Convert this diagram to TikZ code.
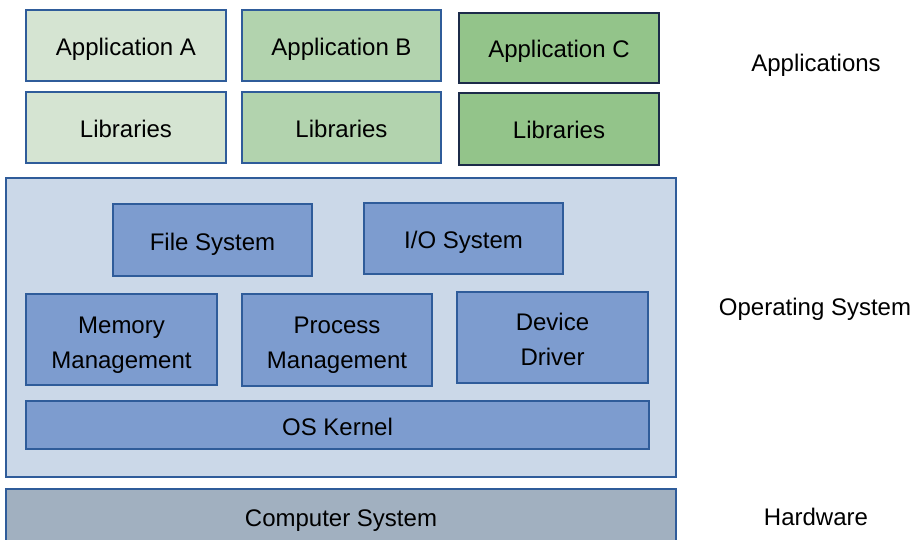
\documentclass[tikz,border=0pt]{standalone}
\usepackage{fontspec}
\setmainfont{Liberation Sans}
\definecolor{edgeblue}{HTML}{2F5C9A}
\definecolor{edgenavy}{HTML}{1C2B49}
\definecolor{greenA}{HTML}{D5E4D2}
\definecolor{greenB}{HTML}{B2D3AE}
\definecolor{greenC}{HTML}{93C48A}
\definecolor{osfill}{HTML}{CBD8E8}
\definecolor{modfill}{HTML}{7D9CCF}
\definecolor{hwfill}{HTML}{A1B0C0}
\tikzset{
  x=1pt, y=-1pt,
  blk/.style={draw=edgeblue, line width=1.8pt, rectangle, inner sep=0pt,
    align=center, font=\fontsize{24}{35}\selectfont},
  oneline/.style={text height=20pt, text depth=0pt},
  appA/.style={blk, oneline, fill=greenA},
  appB/.style={blk, oneline, fill=greenB},
  appC/.style={blk, oneline, fill=greenC, draw=edgenavy},
  osbox/.style={blk, fill=osfill},
  module/.style={blk, oneline, fill=modfill},
  twoline/.style={blk, fill=modfill},
  hwbox/.style={blk, fill=hwfill},
  layerlabel/.style={font=\fontsize{24}{28}\selectfont, inner sep=0pt, oneline}
}
\begin{document}
\begin{tikzpicture}
\useasboundingbox (0,0) rectangle (918,540);

% application layer
\node[appA, minimum width=200, minimum height=71] (appa) at (126,45.5) {Application A};
\node[appA, minimum width=200, minimum height=71] (liba) at (126,127.5) {Libraries};
\node[appB, minimum width=199, minimum height=71] (appb) at (341.5,45.5) {Application B};
\node[appB, minimum width=199, minimum height=71] (libb) at (341.5,127.5) {Libraries};
\node[appC, minimum width=200, minimum height=70] (appc) at (559,48) {Application C};
\node[appC, minimum width=200, minimum height=72] (libc) at (559,129) {Libraries};

% operating system layer
\node[osbox, minimum width=670, minimum height=299] (os) at (341,327.5) {};
\node[module, minimum width=199, minimum height=72] (fs) at (212.5,240) {File System};
\node[module, minimum width=199, minimum height=71] (io) at (463.5,238.5) {I/O System};
\node[twoline, minimum width=191, minimum height=91] (mem) at (121.5,339.5) {};
\node[twoline, minimum width=190, minimum height=92] (proc) at (337,340) {};
\node[twoline, minimum width=191, minimum height=91] (dev) at (552.5,337.5) {};
\node[module, minimum width=623, minimum height=48] (kernel) at (337.5,425) {OS Kernel};

% two-line module captions
\node[blk, draw=none, oneline] (memtext) at ([yshift=-19]mem.center) {Memory\\Management};
\node[blk, draw=none, oneline] (proctext) at ([yshift=-18]proc.center) {Process\\Management};
\node[blk, draw=none, oneline] (devtext) at ([yshift=-18]dev.center) {Device\\Driver};

% hardware layer
\node[hwbox, minimum width=670, minimum height=56] (hw) at (341,517) {};
\node[layerlabel] (hwtext) at (341,516) {Computer System};

% layer captions
\node[layerlabel] (lapp) at (816,62) {Applications};
\node[layerlabel] (los) at (815,305) {Operating System};
\node[layerlabel] (lhw) at (816,515) {Hardware};
\end{tikzpicture}
\end{document}
